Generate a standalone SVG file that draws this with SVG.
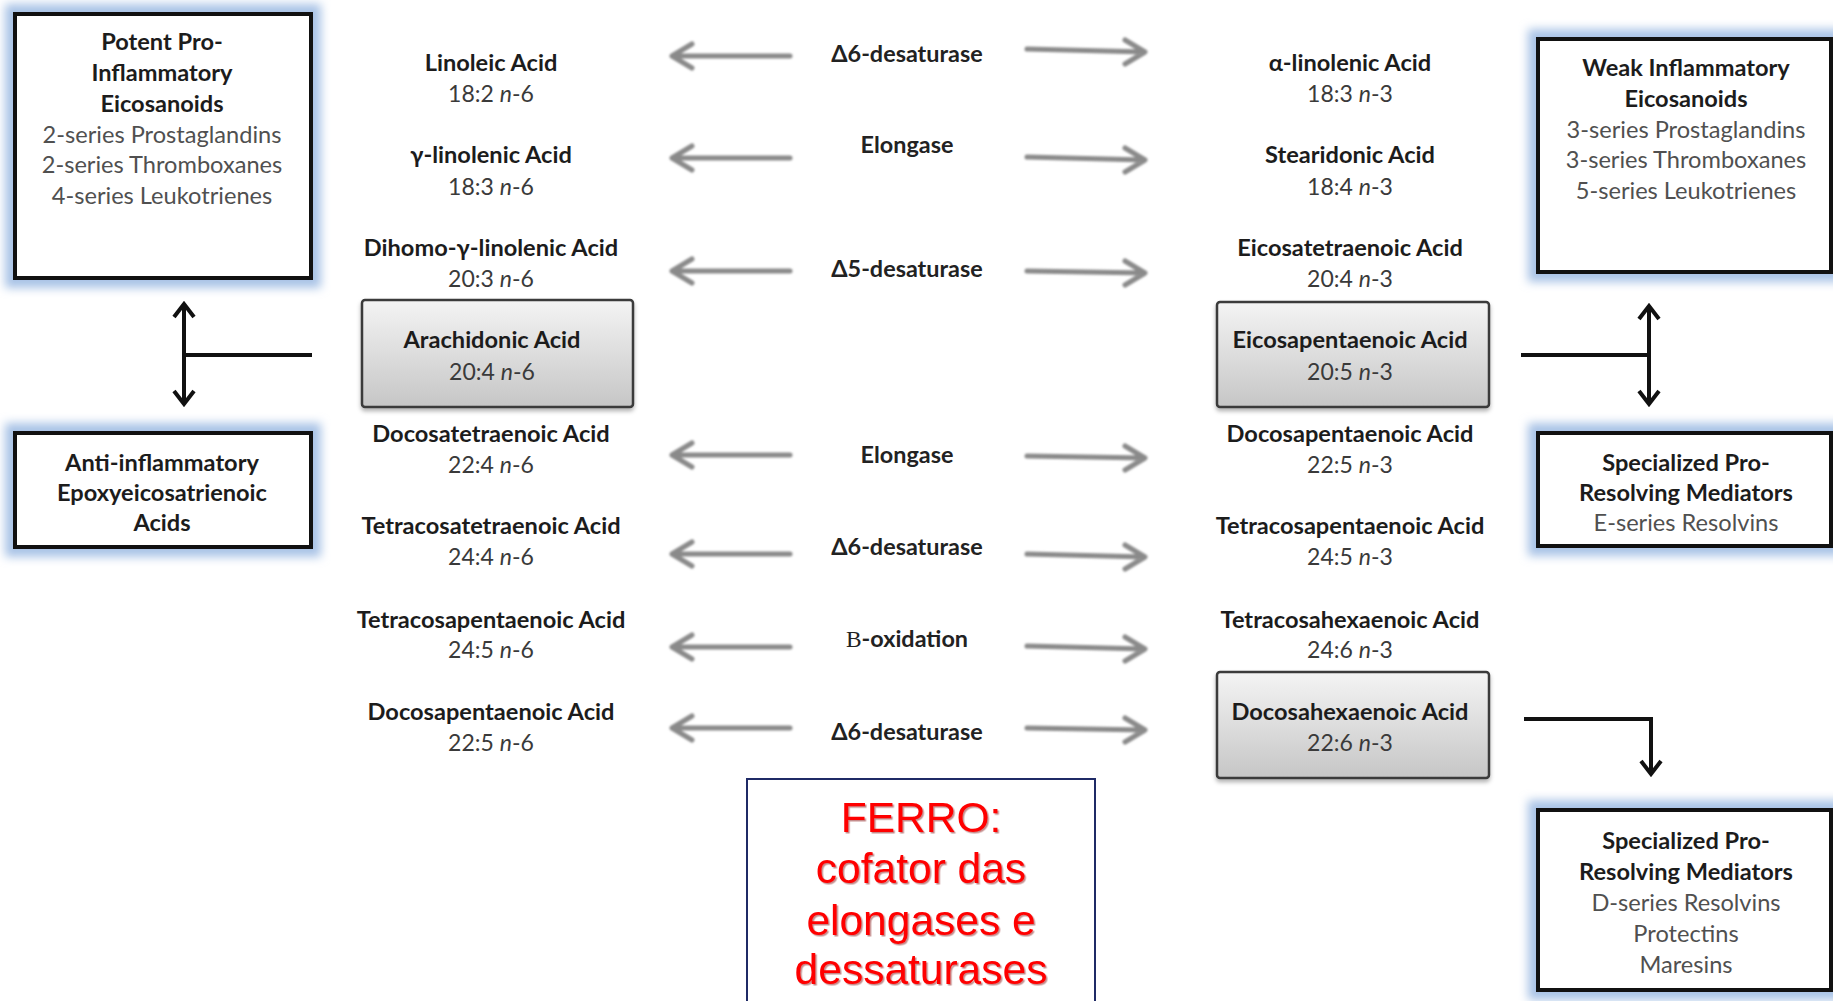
<svg xmlns="http://www.w3.org/2000/svg" width="1833" height="1001" viewBox="0 0 1833 1001">
<style>
.hd{font-family:Lato,'DejaVu Sans',sans-serif;font-weight:bold;font-size:23.6px;fill:#1c1c1c;text-anchor:middle}
.it{font-family:Lato,'DejaVu Sans',sans-serif;font-size:23.6px;fill:#505050;text-anchor:middle}
.nm{font-family:Lato,'DejaVu Sans',sans-serif;font-size:23px;fill:#3a3a3a;text-anchor:middle}
.en{font-family:Lato,'DejaVu Sans',sans-serif;font-weight:bold;font-size:23.4px;fill:#222;text-anchor:middle}
.i{font-style:italic}
.rb{fill:#fff;stroke:#111;stroke-width:4}
.glow{fill:#a9c3e6;filter:url(#blur)}
.ab{fill:url(#gg);stroke:#3a3a3a;stroke-width:2.5;filter:url(#sh)}
.ga{fill:none;stroke:#8a8a8a;stroke-width:5;stroke-linecap:round;stroke-linejoin:round;filter:url(#soft)}
.ba{fill:none;stroke:#111;stroke-width:4;stroke-linejoin:miter}
.red{font-family:'Liberation Sans',Arial,sans-serif;font-size:42.5px;fill:#ff0000;text-anchor:middle;filter:url(#rs)}
</style>
<defs>
<linearGradient id="gg" x1="0" y1="0" x2="0" y2="1"><stop offset="0" stop-color="#f4f4f4"/><stop offset="1" stop-color="#c6c6c6"/></linearGradient>
<filter id="blur" x="-20%" y="-20%" width="140%" height="140%"><feGaussianBlur stdDeviation="5"/></filter>
<filter id="sh" x="-10%" y="-10%" width="120%" height="130%"><feDropShadow dx="0" dy="3" stdDeviation="2" flood-color="#000" flood-opacity="0.3"/></filter>
<filter id="soft" x="-10%" y="-50%" width="120%" height="200%"><feGaussianBlur stdDeviation="0.8"/></filter>
<filter id="rs" x="-10%" y="-10%" width="120%" height="130%"><feDropShadow dx="1.5" dy="1.5" stdDeviation="0.6" flood-color="#7a0000" flood-opacity="0.45"/></filter>
</defs>
<rect width="1833" height="1001" fill="#fff"/>

<g id="potent">
<rect class="glow" x="5" y="4" width="316" height="284"/>
<rect class="rb" x="15" y="14" width="296" height="264"/>
<text class="hd" x="162" y="50">Potent Pro-</text>
<text class="hd" x="162" y="81">Inflammatory</text>
<text class="hd" x="162" y="112">Eicosanoids</text>
<text class="it" x="162" y="143">2-series Prostaglandins</text>
<text class="it" x="162" y="173">2-series Thromboxanes</text>
<text class="it" x="162" y="204">4-series Leukotrienes</text>
</g>

<g id="anti">
<rect class="glow" x="5" y="423" width="316" height="134"/>
<rect class="rb" x="15" y="433" width="296" height="114"/>
<text class="hd" x="162" y="471">Anti-inflammatory</text>
<text class="hd" x="162" y="501">Epoxyeicosatrienoic</text>
<text class="hd" x="162" y="531">Acids</text>
</g>

<g id="weak">
<rect class="glow" x="1528" y="29" width="320" height="253"/>
<rect class="rb" x="1538" y="39" width="293" height="233"/>
<text class="hd" x="1686" y="76">Weak Inflammatory</text>
<text class="hd" x="1686" y="107">Eicosanoids</text>
<text class="it" x="1686" y="138">3-series Prostaglandins</text>
<text class="it" x="1686" y="168">3-series Thromboxanes</text>
<text class="it" x="1686" y="199">5-series Leukotrienes</text>
</g>

<g id="eseries">
<rect class="glow" x="1528" y="423" width="320" height="133"/>
<rect class="rb" x="1538" y="433" width="293" height="113"/>
<text class="hd" x="1686" y="471">Specialized Pro-</text>
<text class="hd" x="1686" y="501">Resolving Mediators</text>
<text class="it" x="1686" y="531">E-series Resolvins</text>
</g>

<g id="dseries">
<rect class="glow" x="1528" y="800" width="320" height="200"/>
<rect class="rb" x="1538" y="810" width="293" height="180"/>
<text class="hd" x="1686" y="849">Specialized Pro-</text>
<text class="hd" x="1686" y="880">Resolving Mediators</text>
<text class="it" x="1686" y="911">D-series Resolvins</text>
<text class="it" x="1686" y="942">Protectins</text>
<text class="it" x="1686" y="973">Maresins</text>
</g>

<g id="la"><text class="hd" x="491" y="71">Linoleic Acid</text><text class="nm" x="491" y="102">18:2 <tspan class="i">n</tspan>-6</text></g>
<g id="gla"><text class="hd" x="491" y="163">γ-linolenic Acid</text><text class="nm" x="491" y="195">18:3 <tspan class="i">n</tspan>-6</text></g>
<g id="dgla"><text class="hd" x="491" y="256">Dihomo-γ-linolenic Acid</text><text class="nm" x="491" y="287">20:3 <tspan class="i">n</tspan>-6</text></g>
<g id="aa"><rect class="ab" x="362" y="300" width="271" height="107" rx="3"/><text class="hd" x="492" y="348">Arachidonic Acid</text><text class="nm" x="492" y="380">20:4 <tspan class="i">n</tspan>-6</text></g>
<g id="dta"><text class="hd" x="491" y="442">Docosatetraenoic Acid</text><text class="nm" x="491" y="473">22:4 <tspan class="i">n</tspan>-6</text></g>
<g id="tta"><text class="hd" x="491" y="534">Tetracosatetraenoic Acid</text><text class="nm" x="491" y="565">24:4 <tspan class="i">n</tspan>-6</text></g>
<g id="tpa6"><text class="hd" x="491" y="628">Tetracosapentaenoic Acid</text><text class="nm" x="491" y="658">24:5 <tspan class="i">n</tspan>-6</text></g>
<g id="dpa6"><text class="hd" x="491" y="720">Docosapentaenoic Acid</text><text class="nm" x="491" y="751">22:5 <tspan class="i">n</tspan>-6</text></g>

<g id="ala"><text class="hd" x="1350" y="71">α-linolenic Acid</text><text class="nm" x="1350" y="102">18:3 <tspan class="i">n</tspan>-3</text></g>
<g id="sda"><text class="hd" x="1350" y="163">Stearidonic Acid</text><text class="nm" x="1350" y="195">18:4 <tspan class="i">n</tspan>-3</text></g>
<g id="eta"><text class="hd" x="1350" y="256">Eicosatetraenoic Acid</text><text class="nm" x="1350" y="287">20:4 <tspan class="i">n</tspan>-3</text></g>
<g id="epa"><rect class="ab" x="1217" y="302" width="272" height="105" rx="3"/><text class="hd" x="1350" y="348">Eicosapentaenoic Acid</text><text class="nm" x="1350" y="380">20:5 <tspan class="i">n</tspan>-3</text></g>
<g id="dpa3"><text class="hd" x="1350" y="442">Docosapentaenoic Acid</text><text class="nm" x="1350" y="473">22:5 <tspan class="i">n</tspan>-3</text></g>
<g id="tpa3"><text class="hd" x="1350" y="534">Tetracosapentaenoic Acid</text><text class="nm" x="1350" y="565">24:5 <tspan class="i">n</tspan>-3</text></g>
<g id="tha"><text class="hd" x="1350" y="628">Tetracosahexaenoic Acid</text><text class="nm" x="1350" y="658">24:6 <tspan class="i">n</tspan>-3</text></g>
<g id="dha"><rect class="ab" x="1217" y="672" width="272" height="106" rx="3"/><text class="hd" x="1350" y="720">Docosahexaenoic Acid</text><text class="nm" x="1350" y="751">22:6 <tspan class="i">n</tspan>-3</text></g>

<g id="enzymes">
<text class="en" x="907" y="62">Δ6-desaturase</text>
<text class="en" x="907" y="153">Elongase</text>
<text class="en" x="907" y="277">Δ5-desaturase</text>
<text class="en" x="907" y="463">Elongase</text>
<text class="en" x="907" y="555">Δ6-desaturase</text>
<text class="en" x="907" y="647"><tspan font-family="'Liberation Serif',serif" font-weight="normal">B</tspan>-oxidation</text>
<text class="en" x="907" y="740">Δ6-desaturase</text>
</g>

<g id="ferro">
<rect x="747" y="779" width="348" height="240" fill="#fff" stroke="#1f2a66" stroke-width="2"/>
<text class="red" x="921" y="832">FERRO:</text>
<text class="red" x="921" y="883">cofator das</text>
<text class="red" x="921" y="935">elongases e</text>
<text class="red" x="921" y="984">dessaturases</text>
</g>

<g id="connectors">
<path class="ga" d="M790 56H672M692 44L672 56L692 68"/>
<path class="ga" d="M1027 49L1145 52M1125 40L1145 52L1125 64"/>
<path class="ga" d="M790 158H672M692 146L672 158L692 170"/>
<path class="ga" d="M1027 157L1145 160M1125 148L1145 160L1125 172"/>
<path class="ga" d="M790 271H672M692 259L672 271L692 283"/>
<path class="ga" d="M1027 271L1145 273M1125 261L1145 273L1125 285"/>
<path class="ga" d="M790 455H672M692 443L672 455L692 467"/>
<path class="ga" d="M1027 456L1145 458M1125 446L1145 458L1125 470"/>
<path class="ga" d="M790 554H672M692 542L672 554L692 566"/>
<path class="ga" d="M1027 554L1145 557M1125 545L1145 557L1125 569"/>
<path class="ga" d="M790 647H672M692 635L672 647L692 659"/>
<path class="ga" d="M1027 646L1145 649M1125 637L1145 649L1125 661"/>
<path class="ga" d="M790 728H672M692 716L672 728L692 740"/>
<path class="ga" d="M1027 728L1145 730M1125 718L1145 730L1125 742"/>

<path class="ba" d="M184 304V404M312 355H184M174 317L184 304L194 317M174 391L184 404L194 391"/>
<path class="ba" d="M1649 306V404M1521 355H1649M1639 319L1649 306L1659 319M1639 391L1649 404L1659 391"/>
<path class="ba" d="M1524 719H1651V774M1641 761L1651 774L1661 761"/>
</g>
</svg>
